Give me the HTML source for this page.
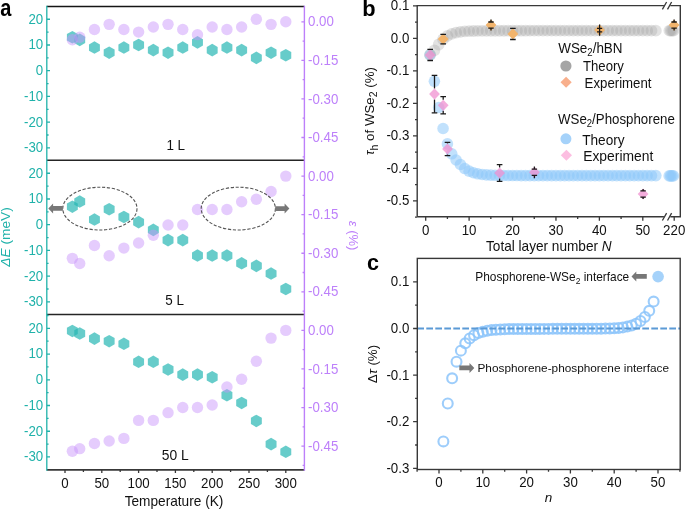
<!DOCTYPE html>
<html><head><meta charset="utf-8"><style>
html,body{margin:0;padding:0;background:#fff;}
svg{display:block;will-change:transform;font-family:"Liberation Sans", sans-serif;}
</style></head><body>
<svg width="685" height="509" viewBox="0 0 685 509">
<rect width="685" height="509" fill="#fff"/>
<path d="M72.36,30.96 L77.82,34.11 L77.82,40.41 L72.36,43.56 L66.90,40.41 L66.90,34.11Z" fill="#27B7B4" fill-opacity="0.7"/>
<path d="M79.72,33.54 L85.18,36.69 L85.18,42.99 L79.72,46.14 L74.26,42.99 L74.26,36.69Z" fill="#27B7B4" fill-opacity="0.7"/>
<path d="M94.44,41.25 L99.90,44.40 L99.90,50.70 L94.44,53.85 L88.98,50.70 L88.98,44.40Z" fill="#27B7B4" fill-opacity="0.7"/>
<path d="M109.16,46.40 L114.62,49.55 L114.62,55.85 L109.16,59.00 L103.70,55.85 L103.70,49.55Z" fill="#27B7B4" fill-opacity="0.7"/>
<path d="M123.88,41.25 L129.34,44.40 L129.34,50.70 L123.88,53.85 L118.42,50.70 L118.42,44.40Z" fill="#27B7B4" fill-opacity="0.7"/>
<path d="M138.60,38.68 L144.06,41.83 L144.06,48.13 L138.60,51.28 L133.14,48.13 L133.14,41.83Z" fill="#27B7B4" fill-opacity="0.7"/>
<path d="M153.32,43.82 L158.78,46.97 L158.78,53.27 L153.32,56.42 L147.86,53.27 L147.86,46.97Z" fill="#27B7B4" fill-opacity="0.7"/>
<path d="M168.04,46.40 L173.50,49.55 L173.50,55.85 L168.04,59.00 L162.58,55.85 L162.58,49.55Z" fill="#27B7B4" fill-opacity="0.7"/>
<path d="M182.76,41.25 L188.22,44.40 L188.22,50.70 L182.76,53.85 L177.30,50.70 L177.30,44.40Z" fill="#27B7B4" fill-opacity="0.7"/>
<path d="M197.48,36.11 L202.94,39.26 L202.94,45.56 L197.48,48.71 L192.02,45.56 L192.02,39.26Z" fill="#27B7B4" fill-opacity="0.7"/>
<path d="M212.20,43.82 L217.66,46.97 L217.66,53.27 L212.20,56.42 L206.74,53.27 L206.74,46.97Z" fill="#27B7B4" fill-opacity="0.7"/>
<path d="M226.92,41.25 L232.38,44.40 L232.38,50.70 L226.92,53.85 L221.46,50.70 L221.46,44.40Z" fill="#27B7B4" fill-opacity="0.7"/>
<path d="M241.64,43.82 L247.10,46.97 L247.10,53.27 L241.64,56.42 L236.18,53.27 L236.18,46.97Z" fill="#27B7B4" fill-opacity="0.7"/>
<path d="M256.36,51.54 L261.82,54.69 L261.82,60.99 L256.36,64.14 L250.90,60.99 L250.90,54.69Z" fill="#27B7B4" fill-opacity="0.7"/>
<path d="M271.08,46.40 L276.54,49.55 L276.54,55.85 L271.08,59.00 L265.62,55.85 L265.62,49.55Z" fill="#27B7B4" fill-opacity="0.7"/>
<path d="M285.80,48.97 L291.26,52.12 L291.26,58.42 L285.80,61.57 L280.34,58.42 L280.34,52.12Z" fill="#27B7B4" fill-opacity="0.7"/>
<circle cx="72.36" cy="39.80" r="5.7" fill="#C995FA" fill-opacity="0.48"/>
<circle cx="79.72" cy="37.23" r="5.7" fill="#C995FA" fill-opacity="0.48"/>
<circle cx="94.44" cy="29.51" r="5.7" fill="#C995FA" fill-opacity="0.48"/>
<circle cx="109.16" cy="24.37" r="5.7" fill="#C995FA" fill-opacity="0.48"/>
<circle cx="123.88" cy="29.51" r="5.7" fill="#C995FA" fill-opacity="0.48"/>
<circle cx="138.60" cy="32.08" r="5.7" fill="#C995FA" fill-opacity="0.48"/>
<circle cx="153.32" cy="26.94" r="5.7" fill="#C995FA" fill-opacity="0.48"/>
<circle cx="168.04" cy="24.37" r="5.7" fill="#C995FA" fill-opacity="0.48"/>
<circle cx="182.76" cy="29.51" r="5.7" fill="#C995FA" fill-opacity="0.48"/>
<circle cx="197.48" cy="34.66" r="5.7" fill="#C995FA" fill-opacity="0.48"/>
<circle cx="212.20" cy="26.94" r="5.7" fill="#C995FA" fill-opacity="0.48"/>
<circle cx="226.92" cy="29.51" r="5.7" fill="#C995FA" fill-opacity="0.48"/>
<circle cx="241.64" cy="26.94" r="5.7" fill="#C995FA" fill-opacity="0.48"/>
<circle cx="256.36" cy="19.23" r="5.7" fill="#C995FA" fill-opacity="0.48"/>
<circle cx="271.08" cy="24.37" r="5.7" fill="#C995FA" fill-opacity="0.48"/>
<circle cx="285.80" cy="21.80" r="5.7" fill="#C995FA" fill-opacity="0.48"/>
<path d="M72.36,200.40 L77.82,203.55 L77.82,209.85 L72.36,213.00 L66.90,209.85 L66.90,203.55Z" fill="#27B7B4" fill-opacity="0.7"/>
<path d="M79.72,195.25 L85.18,198.40 L85.18,204.70 L79.72,207.85 L74.26,204.70 L74.26,198.40Z" fill="#27B7B4" fill-opacity="0.7"/>
<path d="M94.44,213.26 L99.90,216.41 L99.90,222.71 L94.44,225.86 L88.98,222.71 L88.98,216.41Z" fill="#27B7B4" fill-opacity="0.7"/>
<path d="M109.16,202.97 L114.62,206.12 L114.62,212.42 L109.16,215.57 L103.70,212.42 L103.70,206.12Z" fill="#27B7B4" fill-opacity="0.7"/>
<path d="M123.88,210.68 L129.34,213.83 L129.34,220.13 L123.88,223.28 L118.42,220.13 L118.42,213.83Z" fill="#27B7B4" fill-opacity="0.7"/>
<path d="M138.60,215.83 L144.06,218.98 L144.06,225.28 L138.60,228.43 L133.14,225.28 L133.14,218.98Z" fill="#27B7B4" fill-opacity="0.7"/>
<path d="M153.32,223.54 L158.78,226.69 L158.78,232.99 L153.32,236.14 L147.86,232.99 L147.86,226.69Z" fill="#27B7B4" fill-opacity="0.7"/>
<path d="M168.04,233.83 L173.50,236.98 L173.50,243.28 L168.04,246.43 L162.58,243.28 L162.58,236.98Z" fill="#27B7B4" fill-opacity="0.7"/>
<path d="M182.76,233.83 L188.22,236.98 L188.22,243.28 L182.76,246.43 L177.30,243.28 L177.30,236.98Z" fill="#27B7B4" fill-opacity="0.7"/>
<path d="M197.48,249.26 L202.94,252.41 L202.94,258.71 L197.48,261.86 L192.02,258.71 L192.02,252.41Z" fill="#27B7B4" fill-opacity="0.7"/>
<path d="M212.20,249.26 L217.66,252.41 L217.66,258.71 L212.20,261.86 L206.74,258.71 L206.74,252.41Z" fill="#27B7B4" fill-opacity="0.7"/>
<path d="M226.92,249.26 L232.38,252.41 L232.38,258.71 L226.92,261.86 L221.46,258.71 L221.46,252.41Z" fill="#27B7B4" fill-opacity="0.7"/>
<path d="M241.64,256.98 L247.10,260.13 L247.10,266.43 L241.64,269.58 L236.18,266.43 L236.18,260.13Z" fill="#27B7B4" fill-opacity="0.7"/>
<path d="M256.36,259.55 L261.82,262.70 L261.82,269.00 L256.36,272.15 L250.90,269.00 L250.90,262.70Z" fill="#27B7B4" fill-opacity="0.7"/>
<path d="M271.08,267.27 L276.54,270.42 L276.54,276.72 L271.08,279.87 L265.62,276.72 L265.62,270.42Z" fill="#27B7B4" fill-opacity="0.7"/>
<path d="M285.80,282.70 L291.26,285.85 L291.26,292.15 L285.80,295.30 L280.34,292.15 L280.34,285.85Z" fill="#27B7B4" fill-opacity="0.7"/>
<circle cx="72.36" cy="258.37" r="5.7" fill="#C995FA" fill-opacity="0.48"/>
<circle cx="79.72" cy="263.51" r="5.7" fill="#C995FA" fill-opacity="0.48"/>
<circle cx="94.44" cy="245.52" r="5.7" fill="#C995FA" fill-opacity="0.48"/>
<circle cx="109.16" cy="255.80" r="5.7" fill="#C995FA" fill-opacity="0.48"/>
<circle cx="123.88" cy="248.09" r="5.7" fill="#C995FA" fill-opacity="0.48"/>
<circle cx="138.60" cy="242.95" r="5.7" fill="#C995FA" fill-opacity="0.48"/>
<circle cx="153.32" cy="235.23" r="5.7" fill="#C995FA" fill-opacity="0.48"/>
<circle cx="168.04" cy="224.95" r="5.7" fill="#C995FA" fill-opacity="0.48"/>
<circle cx="182.76" cy="224.95" r="5.7" fill="#C995FA" fill-opacity="0.48"/>
<circle cx="197.48" cy="209.52" r="5.7" fill="#C995FA" fill-opacity="0.48"/>
<circle cx="212.20" cy="209.52" r="5.7" fill="#C995FA" fill-opacity="0.48"/>
<circle cx="226.92" cy="209.52" r="5.7" fill="#C995FA" fill-opacity="0.48"/>
<circle cx="241.64" cy="201.81" r="5.7" fill="#C995FA" fill-opacity="0.48"/>
<circle cx="256.36" cy="199.24" r="5.7" fill="#C995FA" fill-opacity="0.48"/>
<circle cx="271.08" cy="191.53" r="5.7" fill="#C995FA" fill-opacity="0.48"/>
<circle cx="285.80" cy="176.10" r="5.7" fill="#C995FA" fill-opacity="0.48"/>
<path d="M72.36,324.63 L77.82,327.78 L77.82,334.08 L72.36,337.23 L66.90,334.08 L66.90,327.78Z" fill="#27B7B4" fill-opacity="0.7"/>
<path d="M79.72,327.20 L85.18,330.35 L85.18,336.65 L79.72,339.80 L74.26,336.65 L74.26,330.35Z" fill="#27B7B4" fill-opacity="0.7"/>
<path d="M94.44,332.35 L99.90,335.50 L99.90,341.80 L94.44,344.95 L88.98,341.80 L88.98,335.50Z" fill="#27B7B4" fill-opacity="0.7"/>
<path d="M109.16,334.92 L114.62,338.07 L114.62,344.37 L109.16,347.52 L103.70,344.37 L103.70,338.07Z" fill="#27B7B4" fill-opacity="0.7"/>
<path d="M123.88,337.49 L129.34,340.64 L129.34,346.94 L123.88,350.09 L118.42,346.94 L118.42,340.64Z" fill="#27B7B4" fill-opacity="0.7"/>
<path d="M138.60,355.50 L144.06,358.65 L144.06,364.95 L138.60,368.10 L133.14,364.95 L133.14,358.65Z" fill="#27B7B4" fill-opacity="0.7"/>
<path d="M153.32,355.50 L158.78,358.65 L158.78,364.95 L153.32,368.10 L147.86,364.95 L147.86,358.65Z" fill="#27B7B4" fill-opacity="0.7"/>
<path d="M168.04,363.21 L173.50,366.36 L173.50,372.66 L168.04,375.81 L162.58,372.66 L162.58,366.36Z" fill="#27B7B4" fill-opacity="0.7"/>
<path d="M182.76,368.36 L188.22,371.51 L188.22,377.81 L182.76,380.96 L177.30,377.81 L177.30,371.51Z" fill="#27B7B4" fill-opacity="0.7"/>
<path d="M197.48,368.36 L202.94,371.51 L202.94,377.81 L197.48,380.96 L192.02,377.81 L192.02,371.51Z" fill="#27B7B4" fill-opacity="0.7"/>
<path d="M212.20,370.93 L217.66,374.08 L217.66,380.38 L212.20,383.53 L206.74,380.38 L206.74,374.08Z" fill="#27B7B4" fill-opacity="0.7"/>
<path d="M226.92,388.93 L232.38,392.08 L232.38,398.38 L226.92,401.53 L221.46,398.38 L221.46,392.08Z" fill="#27B7B4" fill-opacity="0.7"/>
<path d="M241.64,396.65 L247.10,399.80 L247.10,406.10 L241.64,409.25 L236.18,406.10 L236.18,399.80Z" fill="#27B7B4" fill-opacity="0.7"/>
<path d="M256.36,414.65 L261.82,417.80 L261.82,424.10 L256.36,427.25 L250.90,424.10 L250.90,417.80Z" fill="#27B7B4" fill-opacity="0.7"/>
<path d="M271.08,437.80 L276.54,440.95 L276.54,447.25 L271.08,450.40 L265.62,447.25 L265.62,440.95Z" fill="#27B7B4" fill-opacity="0.7"/>
<path d="M285.80,445.52 L291.26,448.67 L291.26,454.97 L285.80,458.12 L280.34,454.97 L280.34,448.67Z" fill="#27B7B4" fill-opacity="0.7"/>
<circle cx="72.36" cy="451.24" r="5.7" fill="#C995FA" fill-opacity="0.48"/>
<circle cx="79.72" cy="448.67" r="5.7" fill="#C995FA" fill-opacity="0.48"/>
<circle cx="94.44" cy="443.52" r="5.7" fill="#C995FA" fill-opacity="0.48"/>
<circle cx="109.16" cy="440.95" r="5.7" fill="#C995FA" fill-opacity="0.48"/>
<circle cx="123.88" cy="438.38" r="5.7" fill="#C995FA" fill-opacity="0.48"/>
<circle cx="138.60" cy="420.38" r="5.7" fill="#C995FA" fill-opacity="0.48"/>
<circle cx="153.32" cy="420.38" r="5.7" fill="#C995FA" fill-opacity="0.48"/>
<circle cx="168.04" cy="412.67" r="5.7" fill="#C995FA" fill-opacity="0.48"/>
<circle cx="182.76" cy="407.53" r="5.7" fill="#C995FA" fill-opacity="0.48"/>
<circle cx="197.48" cy="407.53" r="5.7" fill="#C995FA" fill-opacity="0.48"/>
<circle cx="212.20" cy="404.96" r="5.7" fill="#C995FA" fill-opacity="0.48"/>
<circle cx="226.92" cy="386.96" r="5.7" fill="#C995FA" fill-opacity="0.48"/>
<circle cx="241.64" cy="379.25" r="5.7" fill="#C995FA" fill-opacity="0.48"/>
<circle cx="256.36" cy="361.25" r="5.7" fill="#C995FA" fill-opacity="0.48"/>
<circle cx="271.08" cy="338.11" r="5.7" fill="#C995FA" fill-opacity="0.48"/>
<circle cx="285.80" cy="330.40" r="5.7" fill="#C995FA" fill-opacity="0.48"/>
<ellipse cx="99.9" cy="208.6" rx="37.1" ry="21.4" fill="none" stroke="#555" stroke-width="1.1" stroke-dasharray="3.2,1.7"/>
<ellipse cx="238.3" cy="208.6" rx="37.1" ry="21.4" fill="none" stroke="#555" stroke-width="1.1" stroke-dasharray="3.2,1.7"/>
<path d="M48.3,208.4 L53.099999999999994,203.4 L53.099999999999994,206.0 L62.9,206.0 L62.9,210.8 L53.099999999999994,210.8 L53.099999999999994,213.4 Z" fill="#777"/>
<path d="M289.4,208.6 L284.59999999999997,203.6 L284.59999999999997,206.2 L275.2,206.2 L275.2,211.0 L284.59999999999997,211.0 L284.59999999999997,213.6 Z" fill="#777"/>
<line x1="46.8" y1="6.5" x2="304.4" y2="6.5" stroke="#151515" stroke-width="1.35"/>
<line x1="46.8" y1="160.3" x2="304.4" y2="160.3" stroke="#252525" stroke-width="1.4"/>
<line x1="46.8" y1="314.5" x2="304.4" y2="314.5" stroke="#252525" stroke-width="1.4"/>
<line x1="46.8" y1="469.9" x2="304.4" y2="469.9" stroke="#383838" stroke-width="1.6"/>
<line x1="46.8" y1="5.8" x2="46.8" y2="470.7" stroke="#20B2AA" stroke-width="1.3"/>
<line x1="304.4" y1="5.8" x2="304.4" y2="470.7" stroke="#BD80FA" stroke-width="1.4"/>
<text transform="translate(43.20,152.26) scale(0.95,1)" font-size="14" fill="#20B2AA" text-anchor="end">-30</text>
<text transform="translate(43.20,126.54) scale(0.95,1)" font-size="14" fill="#20B2AA" text-anchor="end">-20</text>
<text transform="translate(43.20,100.82) scale(0.95,1)" font-size="14" fill="#20B2AA" text-anchor="end">-10</text>
<text transform="translate(43.20,75.10) scale(0.95,1)" font-size="14" fill="#20B2AA" text-anchor="end">0</text>
<text transform="translate(43.20,49.38) scale(0.95,1)" font-size="14" fill="#20B2AA" text-anchor="end">10</text>
<text transform="translate(43.20,23.66) scale(0.95,1)" font-size="14" fill="#20B2AA" text-anchor="end">20</text>
<text transform="translate(43.20,306.26) scale(0.95,1)" font-size="14" fill="#20B2AA" text-anchor="end">-30</text>
<text transform="translate(43.20,280.54) scale(0.95,1)" font-size="14" fill="#20B2AA" text-anchor="end">-20</text>
<text transform="translate(43.20,254.82) scale(0.95,1)" font-size="14" fill="#20B2AA" text-anchor="end">-10</text>
<text transform="translate(43.20,229.10) scale(0.95,1)" font-size="14" fill="#20B2AA" text-anchor="end">0</text>
<text transform="translate(43.20,203.38) scale(0.95,1)" font-size="14" fill="#20B2AA" text-anchor="end">10</text>
<text transform="translate(43.20,177.66) scale(0.95,1)" font-size="14" fill="#20B2AA" text-anchor="end">20</text>
<text transform="translate(43.20,461.36) scale(0.95,1)" font-size="14" fill="#20B2AA" text-anchor="end">-30</text>
<text transform="translate(43.20,435.64) scale(0.95,1)" font-size="14" fill="#20B2AA" text-anchor="end">-20</text>
<text transform="translate(43.20,409.92) scale(0.95,1)" font-size="14" fill="#20B2AA" text-anchor="end">-10</text>
<text transform="translate(43.20,384.20) scale(0.95,1)" font-size="14" fill="#20B2AA" text-anchor="end">0</text>
<text transform="translate(43.20,358.48) scale(0.95,1)" font-size="14" fill="#20B2AA" text-anchor="end">10</text>
<text transform="translate(43.20,332.76) scale(0.95,1)" font-size="14" fill="#20B2AA" text-anchor="end">20</text>
<path d="M46.8,147.86h3.2 M46.8,135.00h1.8 M46.8,122.14h3.2 M46.8,109.28h1.8 M46.8,96.42h3.2 M46.8,83.56h1.8 M46.8,70.70h3.2 M46.8,57.84h1.8 M46.8,44.98h3.2 M46.8,32.12h1.8 M46.8,19.26h3.2 M46.8,301.86h3.2 M46.8,289.00h1.8 M46.8,276.14h3.2 M46.8,263.28h1.8 M46.8,250.42h3.2 M46.8,237.56h1.8 M46.8,224.70h3.2 M46.8,211.84h1.8 M46.8,198.98h3.2 M46.8,186.12h1.8 M46.8,173.26h3.2 M46.8,456.96h3.2 M46.8,444.10h1.8 M46.8,431.24h3.2 M46.8,418.38h1.8 M46.8,405.52h3.2 M46.8,392.66h1.8 M46.8,379.80h3.2 M46.8,366.94h1.8 M46.8,354.08h3.2 M46.8,341.22h1.8 M46.8,328.36h3.2 M46.8,315.50h1.8" stroke="#20B2AA" stroke-width="1.3"/>
<text transform="translate(308.00,142.09) scale(0.95,1)" font-size="14" fill="#BD80FA">-0.45</text>
<text transform="translate(308.00,103.53) scale(0.95,1)" font-size="14" fill="#BD80FA">-0.30</text>
<text transform="translate(308.00,64.97) scale(0.95,1)" font-size="14" fill="#BD80FA">-0.15</text>
<text transform="translate(308.00,26.40) scale(0.95,1)" font-size="14" fill="#BD80FA">0.00</text>
<text transform="translate(308.00,296.39) scale(0.95,1)" font-size="14" fill="#BD80FA">-0.45</text>
<text transform="translate(308.00,257.83) scale(0.95,1)" font-size="14" fill="#BD80FA">-0.30</text>
<text transform="translate(308.00,219.26) scale(0.95,1)" font-size="14" fill="#BD80FA">-0.15</text>
<text transform="translate(308.00,180.70) scale(0.95,1)" font-size="14" fill="#BD80FA">0.00</text>
<text transform="translate(308.00,450.69) scale(0.95,1)" font-size="14" fill="#BD80FA">-0.45</text>
<text transform="translate(308.00,412.13) scale(0.95,1)" font-size="14" fill="#BD80FA">-0.30</text>
<text transform="translate(308.00,373.56) scale(0.95,1)" font-size="14" fill="#BD80FA">-0.15</text>
<text transform="translate(308.00,335.00) scale(0.95,1)" font-size="14" fill="#BD80FA">0.00</text>
<path d="M304.4,156.78h-1.8 M304.4,137.50h-3.0 M304.4,118.21h-1.8 M304.4,98.93h-3.0 M304.4,79.65h-1.8 M304.4,60.37h-3.0 M304.4,41.08h-1.8 M304.4,21.80h-3.0 M304.4,311.08h-1.8 M304.4,291.79h-3.0 M304.4,272.51h-1.8 M304.4,253.23h-3.0 M304.4,233.95h-1.8 M304.4,214.66h-3.0 M304.4,195.38h-1.8 M304.4,176.10h-3.0 M304.4,465.38h-1.8 M304.4,446.09h-3.0 M304.4,426.81h-1.8 M304.4,407.53h-3.0 M304.4,388.25h-1.8 M304.4,368.96h-3.0 M304.4,349.68h-1.8 M304.4,330.40h-3.0" stroke="#BD80FA" stroke-width="1.3"/>
<text transform="translate(65.00,487.70) scale(0.95,1)" font-size="14" fill="#111" text-anchor="middle">0</text>
<text transform="translate(101.80,487.70) scale(0.95,1)" font-size="14" fill="#111" text-anchor="middle">50</text>
<text transform="translate(138.60,487.70) scale(0.95,1)" font-size="14" fill="#111" text-anchor="middle">100</text>
<text transform="translate(175.40,487.70) scale(0.95,1)" font-size="14" fill="#111" text-anchor="middle">150</text>
<text transform="translate(212.20,487.70) scale(0.95,1)" font-size="14" fill="#111" text-anchor="middle">200</text>
<text transform="translate(249.00,487.70) scale(0.95,1)" font-size="14" fill="#111" text-anchor="middle">250</text>
<text transform="translate(285.80,487.70) scale(0.95,1)" font-size="14" fill="#111" text-anchor="middle">300</text>
<path d="M65.00,469.9v3.2 M83.40,469.9v2.0 M101.80,469.9v3.2 M120.20,469.9v2.0 M138.60,469.9v3.2 M157.00,469.9v2.0 M175.40,469.9v3.2 M193.80,469.9v2.0 M212.20,469.9v3.2 M230.60,469.9v2.0 M249.00,469.9v3.2 M267.40,469.9v2.0 M285.80,469.9v3.2" stroke="#383838" stroke-width="1.3"/>
<text transform="translate(174.00,505.80) scale(0.977,1)" font-size="14" fill="#111" text-anchor="middle">Temperature (K)</text>
<text transform="translate(10.2,237) rotate(-90)" font-size="13.7" fill="#20B2AA" text-anchor="middle"><tspan font-style="italic">ΔE</tspan> (meV)</text>
<text transform="translate(349.4,235.6) rotate(90)" font-size="13" fill="#BD80FA" text-anchor="middle"><tspan font-style="italic">ε</tspan> (%)</text>
<text transform="translate(166.40,149.90) scale(0.96,1)" font-size="14" fill="#111">1 L</text>
<text transform="translate(165.20,305.20) scale(0.96,1)" font-size="14" fill="#111">5 L</text>
<text transform="translate(161.80,459.60) scale(0.99,1)" font-size="14" fill="#111">50 L</text>
<text transform="translate(0.20,16.00) scale(0.87,1)" font-size="23" fill="#000" font-weight="bold">a</text>
<circle cx="430.04" cy="54.90" r="5.8" fill="#8EC8FA" fill-opacity="0.55"/>
<circle cx="434.38" cy="81.30" r="5.8" fill="#8EC8FA" fill-opacity="0.55"/>
<circle cx="438.73" cy="107.50" r="5.8" fill="#8EC8FA" fill-opacity="0.55"/>
<circle cx="443.07" cy="128.50" r="5.8" fill="#8EC8FA" fill-opacity="0.55"/>
<circle cx="447.41" cy="143.90" r="5.8" fill="#8EC8FA" fill-opacity="0.55"/>
<circle cx="451.75" cy="153.80" r="5.8" fill="#8EC8FA" fill-opacity="0.55"/>
<circle cx="456.09" cy="160.00" r="5.8" fill="#8EC8FA" fill-opacity="0.55"/>
<circle cx="460.44" cy="164.50" r="5.8" fill="#8EC8FA" fill-opacity="0.55"/>
<circle cx="464.78" cy="168.55" r="5.8" fill="#8EC8FA" fill-opacity="0.55"/>
<circle cx="469.12" cy="171.13" r="5.8" fill="#8EC8FA" fill-opacity="0.55"/>
<circle cx="473.46" cy="172.76" r="5.8" fill="#8EC8FA" fill-opacity="0.55"/>
<circle cx="477.80" cy="173.80" r="5.8" fill="#8EC8FA" fill-opacity="0.55"/>
<circle cx="482.15" cy="174.46" r="5.8" fill="#8EC8FA" fill-opacity="0.55"/>
<circle cx="486.49" cy="174.87" r="5.8" fill="#8EC8FA" fill-opacity="0.55"/>
<circle cx="490.83" cy="175.14" r="5.8" fill="#8EC8FA" fill-opacity="0.55"/>
<circle cx="495.17" cy="175.31" r="5.8" fill="#8EC8FA" fill-opacity="0.55"/>
<circle cx="499.51" cy="175.41" r="5.8" fill="#8EC8FA" fill-opacity="0.55"/>
<circle cx="503.86" cy="175.48" r="5.8" fill="#8EC8FA" fill-opacity="0.55"/>
<circle cx="508.20" cy="175.53" r="5.8" fill="#8EC8FA" fill-opacity="0.55"/>
<circle cx="512.54" cy="175.55" r="5.8" fill="#8EC8FA" fill-opacity="0.55"/>
<circle cx="516.88" cy="175.57" r="5.8" fill="#8EC8FA" fill-opacity="0.55"/>
<circle cx="521.22" cy="175.58" r="5.8" fill="#8EC8FA" fill-opacity="0.55"/>
<circle cx="525.57" cy="175.59" r="5.8" fill="#8EC8FA" fill-opacity="0.55"/>
<circle cx="529.91" cy="175.59" r="5.8" fill="#8EC8FA" fill-opacity="0.55"/>
<circle cx="534.25" cy="175.60" r="5.8" fill="#8EC8FA" fill-opacity="0.55"/>
<circle cx="538.59" cy="175.60" r="5.8" fill="#8EC8FA" fill-opacity="0.55"/>
<circle cx="542.93" cy="175.60" r="5.8" fill="#8EC8FA" fill-opacity="0.55"/>
<circle cx="547.28" cy="175.60" r="5.8" fill="#8EC8FA" fill-opacity="0.55"/>
<circle cx="551.62" cy="175.60" r="5.8" fill="#8EC8FA" fill-opacity="0.55"/>
<circle cx="555.96" cy="175.60" r="5.8" fill="#8EC8FA" fill-opacity="0.55"/>
<circle cx="560.30" cy="175.60" r="5.8" fill="#8EC8FA" fill-opacity="0.55"/>
<circle cx="564.64" cy="175.60" r="5.8" fill="#8EC8FA" fill-opacity="0.55"/>
<circle cx="568.99" cy="175.60" r="5.8" fill="#8EC8FA" fill-opacity="0.55"/>
<circle cx="573.33" cy="175.60" r="5.8" fill="#8EC8FA" fill-opacity="0.55"/>
<circle cx="577.67" cy="175.60" r="5.8" fill="#8EC8FA" fill-opacity="0.55"/>
<circle cx="582.01" cy="175.60" r="5.8" fill="#8EC8FA" fill-opacity="0.55"/>
<circle cx="586.35" cy="175.60" r="5.8" fill="#8EC8FA" fill-opacity="0.55"/>
<circle cx="590.70" cy="175.60" r="5.8" fill="#8EC8FA" fill-opacity="0.55"/>
<circle cx="595.04" cy="175.60" r="5.8" fill="#8EC8FA" fill-opacity="0.55"/>
<circle cx="599.38" cy="175.60" r="5.8" fill="#8EC8FA" fill-opacity="0.55"/>
<circle cx="603.72" cy="175.60" r="5.8" fill="#8EC8FA" fill-opacity="0.55"/>
<circle cx="608.06" cy="175.60" r="5.8" fill="#8EC8FA" fill-opacity="0.55"/>
<circle cx="612.41" cy="175.60" r="5.8" fill="#8EC8FA" fill-opacity="0.55"/>
<circle cx="616.75" cy="175.60" r="5.8" fill="#8EC8FA" fill-opacity="0.55"/>
<circle cx="621.09" cy="175.60" r="5.8" fill="#8EC8FA" fill-opacity="0.55"/>
<circle cx="625.43" cy="175.60" r="5.8" fill="#8EC8FA" fill-opacity="0.55"/>
<circle cx="629.77" cy="175.60" r="5.8" fill="#8EC8FA" fill-opacity="0.55"/>
<circle cx="634.12" cy="175.60" r="5.8" fill="#8EC8FA" fill-opacity="0.55"/>
<circle cx="638.46" cy="175.60" r="5.8" fill="#8EC8FA" fill-opacity="0.55"/>
<circle cx="642.80" cy="175.60" r="5.8" fill="#8EC8FA" fill-opacity="0.55"/>
<circle cx="647.14" cy="175.60" r="5.8" fill="#8EC8FA" fill-opacity="0.55"/>
<circle cx="651.48" cy="175.60" r="5.8" fill="#8EC8FA" fill-opacity="0.55"/>
<circle cx="655.83" cy="175.60" r="5.8" fill="#8EC8FA" fill-opacity="0.55"/>
<circle cx="669.2" cy="175.9" r="5.8" fill="#8EC8FA" fill-opacity="0.55"/>
<circle cx="670.6" cy="175.9" r="5.8" fill="#8EC8FA" fill-opacity="0.55"/>
<circle cx="672.0" cy="175.9" r="5.8" fill="#8EC8FA" fill-opacity="0.55"/>
<circle cx="673.4" cy="175.9" r="5.8" fill="#8EC8FA" fill-opacity="0.55"/>
<circle cx="430.04" cy="54.90" r="5.9" fill="#A0A0A0" fill-opacity="0.30"/>
<circle cx="434.38" cy="50.30" r="5.9" fill="#A0A0A0" fill-opacity="0.30"/>
<circle cx="438.73" cy="44.50" r="5.9" fill="#A0A0A0" fill-opacity="0.30"/>
<circle cx="443.07" cy="39.30" r="5.9" fill="#A0A0A0" fill-opacity="0.30"/>
<circle cx="447.41" cy="35.80" r="5.9" fill="#A0A0A0" fill-opacity="0.30"/>
<circle cx="451.75" cy="33.80" r="5.9" fill="#A0A0A0" fill-opacity="0.30"/>
<circle cx="456.09" cy="32.60" r="5.9" fill="#A0A0A0" fill-opacity="0.30"/>
<circle cx="460.44" cy="31.90" r="5.9" fill="#A0A0A0" fill-opacity="0.30"/>
<circle cx="464.78" cy="31.40" r="5.9" fill="#A0A0A0" fill-opacity="0.30"/>
<circle cx="469.12" cy="31.10" r="5.9" fill="#A0A0A0" fill-opacity="0.30"/>
<circle cx="473.46" cy="30.99" r="5.9" fill="#A0A0A0" fill-opacity="0.30"/>
<circle cx="477.80" cy="30.91" r="5.9" fill="#A0A0A0" fill-opacity="0.30"/>
<circle cx="482.15" cy="30.85" r="5.9" fill="#A0A0A0" fill-opacity="0.30"/>
<circle cx="486.49" cy="30.81" r="5.9" fill="#A0A0A0" fill-opacity="0.30"/>
<circle cx="490.83" cy="30.78" r="5.9" fill="#A0A0A0" fill-opacity="0.30"/>
<circle cx="495.17" cy="30.75" r="5.9" fill="#A0A0A0" fill-opacity="0.30"/>
<circle cx="499.51" cy="30.74" r="5.9" fill="#A0A0A0" fill-opacity="0.30"/>
<circle cx="503.86" cy="30.73" r="5.9" fill="#A0A0A0" fill-opacity="0.30"/>
<circle cx="508.20" cy="30.72" r="5.9" fill="#A0A0A0" fill-opacity="0.30"/>
<circle cx="512.54" cy="30.71" r="5.9" fill="#A0A0A0" fill-opacity="0.30"/>
<circle cx="516.88" cy="30.71" r="5.9" fill="#A0A0A0" fill-opacity="0.30"/>
<circle cx="521.22" cy="30.71" r="5.9" fill="#A0A0A0" fill-opacity="0.30"/>
<circle cx="525.57" cy="30.71" r="5.9" fill="#A0A0A0" fill-opacity="0.30"/>
<circle cx="529.91" cy="30.70" r="5.9" fill="#A0A0A0" fill-opacity="0.30"/>
<circle cx="534.25" cy="30.70" r="5.9" fill="#A0A0A0" fill-opacity="0.30"/>
<circle cx="538.59" cy="30.70" r="5.9" fill="#A0A0A0" fill-opacity="0.30"/>
<circle cx="542.93" cy="30.70" r="5.9" fill="#A0A0A0" fill-opacity="0.30"/>
<circle cx="547.28" cy="30.70" r="5.9" fill="#A0A0A0" fill-opacity="0.30"/>
<circle cx="551.62" cy="30.70" r="5.9" fill="#A0A0A0" fill-opacity="0.30"/>
<circle cx="555.96" cy="30.70" r="5.9" fill="#A0A0A0" fill-opacity="0.30"/>
<circle cx="560.30" cy="30.70" r="5.9" fill="#A0A0A0" fill-opacity="0.30"/>
<circle cx="564.64" cy="30.70" r="5.9" fill="#A0A0A0" fill-opacity="0.30"/>
<circle cx="568.99" cy="30.70" r="5.9" fill="#A0A0A0" fill-opacity="0.30"/>
<circle cx="573.33" cy="30.70" r="5.9" fill="#A0A0A0" fill-opacity="0.30"/>
<circle cx="577.67" cy="30.70" r="5.9" fill="#A0A0A0" fill-opacity="0.30"/>
<circle cx="582.01" cy="30.70" r="5.9" fill="#A0A0A0" fill-opacity="0.30"/>
<circle cx="586.35" cy="30.70" r="5.9" fill="#A0A0A0" fill-opacity="0.30"/>
<circle cx="590.70" cy="30.70" r="5.9" fill="#A0A0A0" fill-opacity="0.30"/>
<circle cx="595.04" cy="30.70" r="5.9" fill="#A0A0A0" fill-opacity="0.30"/>
<circle cx="599.38" cy="30.70" r="5.9" fill="#A0A0A0" fill-opacity="0.30"/>
<circle cx="603.72" cy="30.70" r="5.9" fill="#A0A0A0" fill-opacity="0.30"/>
<circle cx="608.06" cy="30.70" r="5.9" fill="#A0A0A0" fill-opacity="0.30"/>
<circle cx="612.41" cy="30.70" r="5.9" fill="#A0A0A0" fill-opacity="0.30"/>
<circle cx="616.75" cy="30.70" r="5.9" fill="#A0A0A0" fill-opacity="0.30"/>
<circle cx="621.09" cy="30.70" r="5.9" fill="#A0A0A0" fill-opacity="0.30"/>
<circle cx="625.43" cy="30.70" r="5.9" fill="#A0A0A0" fill-opacity="0.30"/>
<circle cx="629.77" cy="30.70" r="5.9" fill="#A0A0A0" fill-opacity="0.30"/>
<circle cx="634.12" cy="30.70" r="5.9" fill="#A0A0A0" fill-opacity="0.30"/>
<circle cx="638.46" cy="30.70" r="5.9" fill="#A0A0A0" fill-opacity="0.30"/>
<circle cx="642.80" cy="30.70" r="5.9" fill="#A0A0A0" fill-opacity="0.30"/>
<circle cx="647.14" cy="30.70" r="5.9" fill="#A0A0A0" fill-opacity="0.30"/>
<circle cx="651.48" cy="30.70" r="5.9" fill="#A0A0A0" fill-opacity="0.30"/>
<circle cx="655.83" cy="30.70" r="5.9" fill="#A0A0A0" fill-opacity="0.30"/>
<circle cx="669.4" cy="30.6" r="5.9" fill="#A0A0A0" fill-opacity="0.30"/>
<circle cx="670.8" cy="30.6" r="5.9" fill="#A0A0A0" fill-opacity="0.30"/>
<circle cx="672.2" cy="30.6" r="5.9" fill="#A0A0A0" fill-opacity="0.30"/>
<circle cx="673.6" cy="30.6" r="5.9" fill="#A0A0A0" fill-opacity="0.30"/>
<path d="" stroke="#1a1a1a" stroke-width="1.3" fill="none"/>
<path d="M443.20,33.50 L448.60,39.10 L443.20,44.70 L437.80,39.10 Z" fill="#F2B46C"/>
<path d="M491.00,19.50 L496.40,25.10 L491.00,30.70 L485.60,25.10 Z" fill="#F2B46C"/>
<path d="M512.90,28.30 L518.30,33.90 L512.90,39.50 L507.50,33.90 Z" fill="#F2B46C"/>
<path d="M599.60,24.50 L605.00,30.10 L599.60,35.70 L594.20,30.10 Z" fill="#F2B46C"/>
<path d="M674.10,19.50 L679.50,25.10 L674.10,30.70 L668.70,25.10 Z" fill="#F2B46C"/>
<path d="M440.40,34.40h5.6M440.40,43.80h5.6M491.00,19.60V22.00M491.00,30.60V28.20M488.30,22.00h5.4M488.30,28.20h5.4M510.10,28.30h5.6M510.10,39.50h5.6M599.60,24.50V35.70M597.00,28.30h5.2M597.00,31.90h5.2M674.10,19.60V22.00M674.10,30.60V28.20M671.40,22.00h5.4M671.40,28.20h5.4" stroke="#1a1a1a" stroke-width="1.3" fill="none"/>
<path d="M434.50,75.40V88.60M434.50,112.80V99.60M443.20,96.70V99.80M443.20,113.90V110.80M447.50,142.30V143.50M447.50,155.70V154.50M499.60,164.60V167.50M499.60,181.40V178.50" stroke="#1a1a1a" stroke-width="1.3" fill="none"/>
<path d="M430.20,49.30 L435.60,54.90 L430.20,60.50 L424.80,54.90 Z" fill="#F090D0" fill-opacity="0.75"/>
<path d="M434.50,88.50 L439.90,94.10 L434.50,99.70 L429.10,94.10 Z" fill="#F090D0" fill-opacity="0.75"/>
<path d="M443.20,99.70 L448.60,105.30 L443.20,110.90 L437.80,105.30 Z" fill="#F090D0" fill-opacity="0.75"/>
<path d="M447.50,143.40 L452.90,149.00 L447.50,154.60 L442.10,149.00 Z" fill="#F090D0" fill-opacity="0.75"/>
<path d="M499.60,167.40 L505.00,173.00 L499.60,178.60 L494.20,173.00 Z" fill="#F090D0" fill-opacity="0.75"/>
<path d="M534.40,166.70 L539.80,172.30 L534.40,177.90 L529.00,172.30 Z" fill="#F090D0" fill-opacity="0.75"/>
<path d="M643.10,188.40 L648.50,194.00 L643.10,199.60 L637.70,194.00 Z" fill="#F090D0" fill-opacity="0.75"/>
<path d="M427.40,49.30h5.6M427.40,60.50h5.6M431.70,75.40h5.6M431.70,112.80h5.6M440.40,96.70h5.6M440.40,113.90h5.6M444.70,142.30h5.6M444.70,155.70h5.6M496.80,164.60h5.6M496.80,181.40h5.6M534.40,166.40V169.20M534.40,178.20V175.40M531.70,169.20h5.4M531.70,175.40h5.4M643.10,189.00V190.90M643.10,199.00V197.10M640.40,190.90h5.4M640.40,197.10h5.4" stroke="#1a1a1a" stroke-width="1.3" fill="none"/>
<path d="M417.2,216.7 V5.6 H663.9 M670.3,5.6 H680.3 V216.7 H670.3 M663.9,216.7 H417.2" stroke="#383838" stroke-width="1.4" fill="none"/>
<path d="M662.4,9.40 L666.6,2.00 M667.5,9.40 L671.6,2.00" stroke="#383838" stroke-width="1.3" fill="none"/>
<path d="M662.4,220.50 L666.6,213.10 M667.5,220.50 L671.6,213.10" stroke="#383838" stroke-width="1.3" fill="none"/>
<text transform="translate(409.30,205.30) scale(0.95,1)" font-size="14" fill="#111" text-anchor="end">-0.5</text>
<text transform="translate(409.30,172.82) scale(0.95,1)" font-size="14" fill="#111" text-anchor="end">-0.4</text>
<text transform="translate(409.30,140.34) scale(0.95,1)" font-size="14" fill="#111" text-anchor="end">-0.3</text>
<text transform="translate(409.30,107.86) scale(0.95,1)" font-size="14" fill="#111" text-anchor="end">-0.2</text>
<text transform="translate(409.30,75.38) scale(0.95,1)" font-size="14" fill="#111" text-anchor="end">-0.1</text>
<text transform="translate(409.30,42.90) scale(0.95,1)" font-size="14" fill="#111" text-anchor="end">0.0</text>
<text transform="translate(409.30,10.42) scale(0.95,1)" font-size="14" fill="#111" text-anchor="end">0.1</text>
<text transform="translate(425.70,234.80) scale(0.95,1)" font-size="14" fill="#111" text-anchor="middle">0</text>
<text transform="translate(469.12,234.80) scale(0.95,1)" font-size="14" fill="#111" text-anchor="middle">10</text>
<text transform="translate(512.54,234.80) scale(0.95,1)" font-size="14" fill="#111" text-anchor="middle">20</text>
<text transform="translate(555.96,234.80) scale(0.95,1)" font-size="14" fill="#111" text-anchor="middle">30</text>
<text transform="translate(599.38,234.80) scale(0.95,1)" font-size="14" fill="#111" text-anchor="middle">40</text>
<text transform="translate(642.80,234.80) scale(0.95,1)" font-size="14" fill="#111" text-anchor="middle">50</text>
<text transform="translate(674.20,234.80) scale(0.95,1)" font-size="14" fill="#111" text-anchor="middle">220</text>
<path d="M417.2,217.04h-2.2M417.2,200.80h-4.2M417.2,184.56h-2.2M417.2,168.32h-4.2M417.2,152.08h-2.2M417.2,135.84h-4.2M417.2,119.60h-2.2M417.2,103.36h-4.2M417.2,87.12h-2.2M417.2,70.88h-4.2M417.2,54.64h-2.2M417.2,38.40h-4.2M417.2,22.16h-2.2M417.2,5.92h-4.2M425.70,216.7v4.0M447.41,216.7v2.2M469.12,216.7v4.0M490.83,216.7v2.2M512.54,216.7v4.0M534.25,216.7v2.2M555.96,216.7v4.0M577.67,216.7v2.2M599.38,216.7v4.0M621.09,216.7v2.2M642.80,216.7v4.0M674.2,216.7v4.0" stroke="#383838" stroke-width="1.3"/>
<text transform="translate(548.80,250.60) scale(0.974,1)" font-size="14" fill="#111" text-anchor="middle">Total layer number <tspan font-style="italic">N</tspan></text>
<text transform="translate(374.4,111) rotate(-90)" font-size="13.3" fill="#111" text-anchor="middle"><tspan font-style="italic" font-size="12">τ</tspan><tspan font-size="10.5" dy="3.3">h</tspan><tspan dy="-3.3"> of WSe</tspan><tspan font-size="10.5" dy="3">2</tspan><tspan dy="-3"> (%)</tspan></text>
<text transform="translate(362.30,15.60) scale(0.97,1)" font-size="22.5" fill="#000" font-weight="bold">b</text>
<text transform="translate(558.20,52.60) scale(0.96,1)" font-size="14" fill="#111">WSe<tspan font-size="10" dy="3">2</tspan><tspan dy="-3">/hBN</tspan></text>
<circle cx="565.9" cy="66.0" r="5.6" fill="#A5A5A5"/>
<text transform="translate(583.00,70.90) scale(0.94,1)" font-size="14" fill="#111">Theory</text>
<path d="M566.10,76.70 L571.70,82.20 L566.10,87.70 L560.50,82.20 Z" fill="#F8AF8C"/>
<text transform="translate(584.60,87.50) scale(0.945,1)" font-size="14" fill="#111">Experiment</text>
<text transform="translate(558.00,124.30) scale(0.95,1)" font-size="14" fill="#111">WSe<tspan font-size="10" dy="3">2</tspan><tspan dy="-3">/Phosphorene</tspan></text>
<circle cx="565.9" cy="138.8" r="5.5" fill="#A5D2FA"/>
<text transform="translate(582.20,144.60) scale(0.975,1)" font-size="14" fill="#111">Theory</text>
<path d="M566.40,149.70 L572.00,155.20 L566.40,160.70 L560.80,155.20 Z" fill="#FCBEE1"/>
<text transform="translate(583.20,160.80) scale(0.99,1)" font-size="14" fill="#111">Experiment</text>
<circle cx="443.38" cy="441.46" r="4.95" fill="none" stroke="#8CC4FA" stroke-width="2.1" stroke-opacity="0.85"/>
<circle cx="447.76" cy="403.52" r="4.95" fill="none" stroke="#8CC4FA" stroke-width="2.1" stroke-opacity="0.85"/>
<circle cx="452.14" cy="378.36" r="4.95" fill="none" stroke="#8CC4FA" stroke-width="2.1" stroke-opacity="0.85"/>
<circle cx="456.52" cy="361.68" r="4.95" fill="none" stroke="#8CC4FA" stroke-width="2.1" stroke-opacity="0.85"/>
<circle cx="460.90" cy="350.63" r="4.95" fill="none" stroke="#8CC4FA" stroke-width="2.1" stroke-opacity="0.85"/>
<circle cx="465.28" cy="343.30" r="4.95" fill="none" stroke="#8CC4FA" stroke-width="2.1" stroke-opacity="0.85"/>
<circle cx="469.66" cy="338.44" r="4.95" fill="none" stroke="#8CC4FA" stroke-width="2.1" stroke-opacity="0.85"/>
<circle cx="474.04" cy="335.21" r="4.95" fill="none" stroke="#8CC4FA" stroke-width="2.1" stroke-opacity="0.85"/>
<circle cx="478.42" cy="333.08" r="4.95" fill="none" stroke="#8CC4FA" stroke-width="2.1" stroke-opacity="0.85"/>
<circle cx="482.80" cy="331.66" r="4.95" fill="none" stroke="#8CC4FA" stroke-width="2.1" stroke-opacity="0.85"/>
<circle cx="487.18" cy="330.72" r="4.95" fill="none" stroke="#8CC4FA" stroke-width="2.1" stroke-opacity="0.85"/>
<circle cx="491.56" cy="330.10" r="4.95" fill="none" stroke="#8CC4FA" stroke-width="2.1" stroke-opacity="0.85"/>
<circle cx="495.94" cy="329.68" r="4.95" fill="none" stroke="#8CC4FA" stroke-width="2.1" stroke-opacity="0.85"/>
<circle cx="500.32" cy="329.41" r="4.95" fill="none" stroke="#8CC4FA" stroke-width="2.1" stroke-opacity="0.85"/>
<circle cx="504.70" cy="329.23" r="4.95" fill="none" stroke="#8CC4FA" stroke-width="2.1" stroke-opacity="0.85"/>
<circle cx="509.08" cy="329.11" r="4.95" fill="none" stroke="#8CC4FA" stroke-width="2.1" stroke-opacity="0.85"/>
<circle cx="513.46" cy="329.03" r="4.95" fill="none" stroke="#8CC4FA" stroke-width="2.1" stroke-opacity="0.85"/>
<circle cx="517.84" cy="328.98" r="4.95" fill="none" stroke="#8CC4FA" stroke-width="2.1" stroke-opacity="0.85"/>
<circle cx="522.22" cy="328.94" r="4.95" fill="none" stroke="#8CC4FA" stroke-width="2.1" stroke-opacity="0.85"/>
<circle cx="526.60" cy="328.92" r="4.95" fill="none" stroke="#8CC4FA" stroke-width="2.1" stroke-opacity="0.85"/>
<circle cx="530.98" cy="328.90" r="4.95" fill="none" stroke="#8CC4FA" stroke-width="2.1" stroke-opacity="0.85"/>
<circle cx="535.36" cy="328.89" r="4.95" fill="none" stroke="#8CC4FA" stroke-width="2.1" stroke-opacity="0.85"/>
<circle cx="539.74" cy="328.89" r="4.95" fill="none" stroke="#8CC4FA" stroke-width="2.1" stroke-opacity="0.85"/>
<circle cx="544.12" cy="328.88" r="4.95" fill="none" stroke="#8CC4FA" stroke-width="2.1" stroke-opacity="0.85"/>
<circle cx="548.50" cy="328.88" r="4.95" fill="none" stroke="#8CC4FA" stroke-width="2.1" stroke-opacity="0.85"/>
<circle cx="552.88" cy="328.87" r="4.95" fill="none" stroke="#8CC4FA" stroke-width="2.1" stroke-opacity="0.85"/>
<circle cx="557.26" cy="328.87" r="4.95" fill="none" stroke="#8CC4FA" stroke-width="2.1" stroke-opacity="0.85"/>
<circle cx="561.64" cy="328.87" r="4.95" fill="none" stroke="#8CC4FA" stroke-width="2.1" stroke-opacity="0.85"/>
<circle cx="566.02" cy="328.87" r="4.95" fill="none" stroke="#8CC4FA" stroke-width="2.1" stroke-opacity="0.85"/>
<circle cx="570.40" cy="328.86" r="4.95" fill="none" stroke="#8CC4FA" stroke-width="2.1" stroke-opacity="0.85"/>
<circle cx="574.78" cy="328.86" r="4.95" fill="none" stroke="#8CC4FA" stroke-width="2.1" stroke-opacity="0.85"/>
<circle cx="579.16" cy="328.85" r="4.95" fill="none" stroke="#8CC4FA" stroke-width="2.1" stroke-opacity="0.85"/>
<circle cx="583.54" cy="328.84" r="4.95" fill="none" stroke="#8CC4FA" stroke-width="2.1" stroke-opacity="0.85"/>
<circle cx="587.92" cy="328.82" r="4.95" fill="none" stroke="#8CC4FA" stroke-width="2.1" stroke-opacity="0.85"/>
<circle cx="592.30" cy="328.79" r="4.95" fill="none" stroke="#8CC4FA" stroke-width="2.1" stroke-opacity="0.85"/>
<circle cx="596.68" cy="328.75" r="4.95" fill="none" stroke="#8CC4FA" stroke-width="2.1" stroke-opacity="0.85"/>
<circle cx="601.06" cy="328.69" r="4.95" fill="none" stroke="#8CC4FA" stroke-width="2.1" stroke-opacity="0.85"/>
<circle cx="605.44" cy="328.59" r="4.95" fill="none" stroke="#8CC4FA" stroke-width="2.1" stroke-opacity="0.85"/>
<circle cx="609.82" cy="328.44" r="4.95" fill="none" stroke="#8CC4FA" stroke-width="2.1" stroke-opacity="0.85"/>
<circle cx="614.20" cy="328.22" r="4.95" fill="none" stroke="#8CC4FA" stroke-width="2.1" stroke-opacity="0.85"/>
<circle cx="618.58" cy="327.89" r="4.95" fill="none" stroke="#8CC4FA" stroke-width="2.1" stroke-opacity="0.85"/>
<circle cx="622.96" cy="327.38" r="4.95" fill="none" stroke="#8CC4FA" stroke-width="2.1" stroke-opacity="0.85"/>
<circle cx="627.34" cy="326.62" r="4.95" fill="none" stroke="#8CC4FA" stroke-width="2.1" stroke-opacity="0.85"/>
<circle cx="631.72" cy="325.45" r="4.95" fill="none" stroke="#8CC4FA" stroke-width="2.1" stroke-opacity="0.85"/>
<circle cx="636.10" cy="323.69" r="4.95" fill="none" stroke="#8CC4FA" stroke-width="2.1" stroke-opacity="0.85"/>
<circle cx="640.48" cy="321.02" r="4.95" fill="none" stroke="#8CC4FA" stroke-width="2.1" stroke-opacity="0.85"/>
<circle cx="644.86" cy="316.98" r="4.95" fill="none" stroke="#8CC4FA" stroke-width="2.1" stroke-opacity="0.85"/>
<circle cx="649.24" cy="310.85" r="4.95" fill="none" stroke="#8CC4FA" stroke-width="2.1" stroke-opacity="0.85"/>
<circle cx="653.62" cy="301.57" r="4.95" fill="none" stroke="#8CC4FA" stroke-width="2.1" stroke-opacity="0.85"/>
<line x1="417.3" y1="328.5" x2="680.2" y2="328.5" stroke="#5B9AD6" stroke-width="2" stroke-dasharray="6.7,2.3"/>
<circle cx="658.1" cy="276.6" r="5.8" fill="#A5D2FA"/>
<path d="M631.5,276.4 L636.3,271.4 L636.3,274.0 L646.8,274.0 L646.8,278.79999999999995 L636.3,278.79999999999995 L636.3,281.4 Z" fill="#777"/>
<path d="M474.3,367.9 L469.5,362.9 L469.5,365.5 L459.3,365.5 L459.3,370.29999999999995 L469.5,370.29999999999995 L469.5,372.9 Z" fill="#777"/>
<rect x="417.3" y="258.4" width="262.90000000000003" height="211.10000000000002" fill="none" stroke="#383838" stroke-width="1.4"/>
<text transform="translate(409.30,472.80) scale(0.95,1)" font-size="14" fill="#111" text-anchor="end">-0.3</text>
<text transform="translate(409.30,426.20) scale(0.95,1)" font-size="14" fill="#111" text-anchor="end">-0.2</text>
<text transform="translate(409.30,379.60) scale(0.95,1)" font-size="14" fill="#111" text-anchor="end">-0.1</text>
<text transform="translate(409.30,333.00) scale(0.95,1)" font-size="14" fill="#111" text-anchor="end">0.0</text>
<text transform="translate(409.30,286.40) scale(0.95,1)" font-size="14" fill="#111" text-anchor="end">0.1</text>
<text transform="translate(439.00,487.40) scale(0.95,1)" font-size="14" fill="#111" text-anchor="middle">0</text>
<text transform="translate(482.80,487.40) scale(0.95,1)" font-size="14" fill="#111" text-anchor="middle">10</text>
<text transform="translate(526.60,487.40) scale(0.95,1)" font-size="14" fill="#111" text-anchor="middle">20</text>
<text transform="translate(570.40,487.40) scale(0.95,1)" font-size="14" fill="#111" text-anchor="middle">30</text>
<text transform="translate(614.20,487.40) scale(0.95,1)" font-size="14" fill="#111" text-anchor="middle">40</text>
<text transform="translate(658.00,487.40) scale(0.95,1)" font-size="14" fill="#111" text-anchor="middle">50</text>
<path d="M417.3,468.30h-4.2M417.3,445.00h-2.2M417.3,421.70h-4.2M417.3,398.40h-2.2M417.3,375.10h-4.2M417.3,351.80h-2.2M417.3,328.50h-4.2M417.3,305.20h-2.2M417.3,281.90h-4.2M417.10,469.5v2.2M439.00,469.5v4.0M460.90,469.5v2.2M482.80,469.5v4.0M504.70,469.5v2.2M526.60,469.5v4.0M548.50,469.5v2.2M570.40,469.5v4.0M592.30,469.5v2.2M614.20,469.5v4.0M636.10,469.5v2.2M658.00,469.5v4.0M679.90,469.5v2.2" stroke="#383838" stroke-width="1.3"/>
<text x="548.5" y="501.9" font-size="13.5" font-style="italic" fill="#111" text-anchor="middle">n</text>
<text transform="translate(377.3,364) rotate(-90)" font-size="13.3" fill="#111" text-anchor="middle">Δ<tspan font-style="italic">τ</tspan> (%)</text>
<text transform="translate(367.00,270.00) scale(0.98,1)" font-size="22" fill="#000" font-weight="bold">c</text>
<text x="475.3" y="281.0" font-size="11.88" fill="#111">Phosphorene-WSe<tspan font-size="8.5" dy="2.6">2</tspan><tspan dy="-2.6"> interface</tspan></text>
<text x="477.5" y="372.3" font-size="11.8" fill="#111">Phosphorene-phosphorene interface</text>
</svg></body></html>
